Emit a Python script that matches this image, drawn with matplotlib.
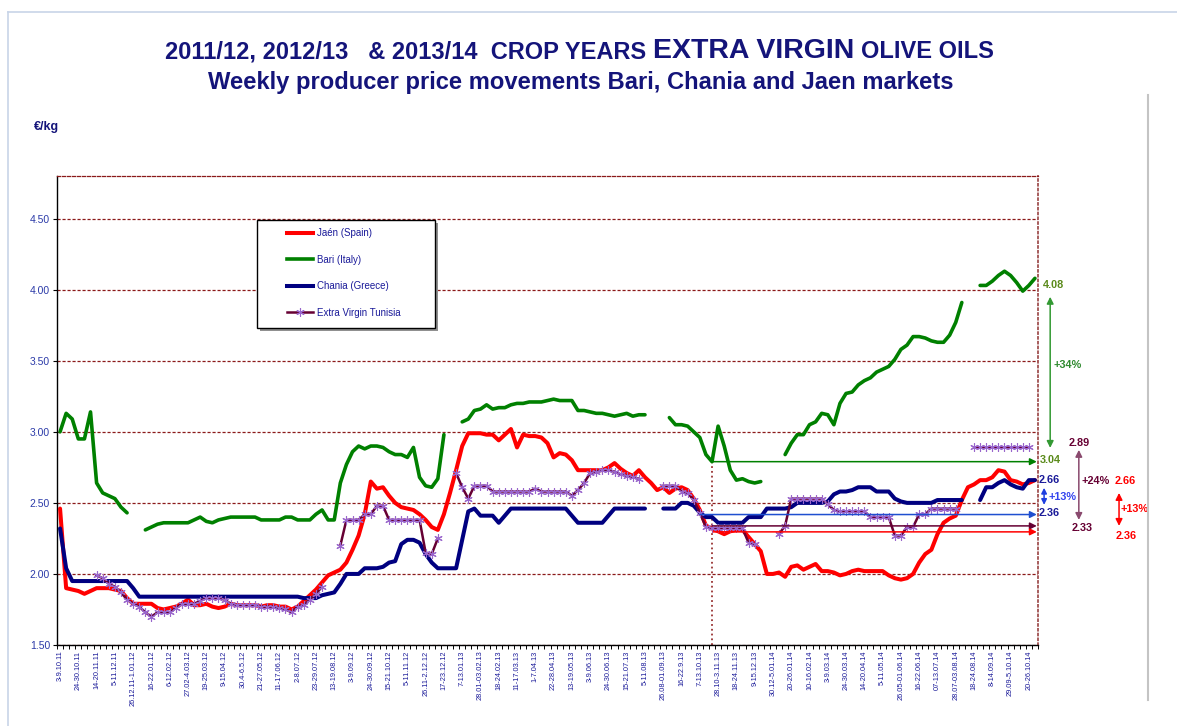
import numpy as np
import matplotlib
matplotlib.use('Agg')
import matplotlib.pyplot as plt
from matplotlib.lines import Line2D
from matplotlib.patches import Rectangle

plt.rcParams['font.family'] = ['Liberation Sans', 'DejaVu Sans']

nan = np.nan

# x-axis labels, one every 3 weeks
week_labels = ["3-9.10.11", "24-30.10.11", "14-20.11.11", "5-11.12.11", "26.12.11-1.01.12",
               "16-22.01.12", "6-12.02.12", "27.02-4.03.12", "19-25.03.12", "9-15.04.12",
               "30.4-6.5.12", "21-27.05.12", "11-17.06.12", "2-8.07.12", "23-29.07.12",
               "13-19.08.12", "3-9.09.12", "24-30.09.12", "15-21.10.12", "5-11.11.12",
               "26.11-2.12.12", "17-23.12.12", "7-13.01.13", "28.01-03.02.13", "18-24.02.13",
               "11-17.03.13", "1-7.04.13", "22-28.04.13", "13-19.05.13", "3-9.06.13",
               "24-30.06.13", "15-21.07.13", "5-11.08.13", "26.08-01.09.13", "16-22.9.13",
               "7-13.10.13", "28.10-3.11.13", "18-24.11.13", "9-15.12.13", "30.12-5.01.14",
               "20-26.01.14", "10-16.02.14", "3-9.03.14", "24-30.03.14", "14-20.04.14",
               "5-11.05.14", "26.05-01.06.14", "16-22.06.14", "07-13.07.14", "28.07-03.08.14",
               "18-24.08.14", "8-14.09.14", "29.09-5.10.14", "20-26.10.14"]

# weekly prices EUR/kg
jaen = [2.46, 1.90, 1.89, 1.88, 1.86, 1.88, 1.90, 1.90, 1.90, 1.89,
        1.88, 1.83, 1.79, 1.79, 1.79, 1.79, 1.76, 1.75, 1.76, 1.77,
        1.79, 1.82, 1.78, 1.78, 1.79, 1.77, 1.76, 1.77, 1.79, 1.78,
        1.78, 1.78, 1.78, 1.77, 1.78, 1.78, 1.77, 1.77, 1.75, 1.77,
        1.81, 1.85, 1.89, 1.94, 1.99, 2.01, 2.03, 2.08, 2.17, 2.27,
        2.42, 2.65, 2.60, 2.61, 2.55, 2.50, 2.47, 2.46, 2.45, 2.42,
        2.38, 2.33, 2.31, 2.42, 2.57, 2.73, 2.90, 2.99, 2.99, 2.99,
        2.98, 2.98, 2.94, 2.98, 3.02, 2.89, 2.98, 2.97, 2.97, 2.96,
        2.92, 2.82, 2.85, 2.84, 2.80, 2.73, 2.73, 2.73, 2.73, 2.73,
        2.75, 2.78, 2.74, 2.71, 2.69, 2.73, 2.68, 2.64, 2.59, 2.61,
        2.57, 2.60, 2.61, 2.59, 2.53, 2.45, 2.34, 2.32, 2.30, 2.28,
        2.30, 2.31, 2.31, 2.26, 2.21, 2.16, 2.00, 2.00, 2.01, 1.98,
        2.05, 2.06, 2.03, 2.05, 2.07, 2.02, 2.02, 2.01, 1.99, 2.00,
        2.02, 2.03, 2.02, 2.02, 2.02, 2.02, 1.99, 1.97, 1.96, 1.97,
        2.00, 2.08, 2.14, 2.17, 2.28, 2.36, 2.39, 2.41, 2.52, 2.61,
        2.63, 2.66, 2.66, 2.68, 2.73, 2.72, 2.66, 2.65, 2.63, 2.64,
        2.66]

bari = [3.00, 3.13, 3.09, 2.95, 2.95, 3.14, 2.64, 2.57, 2.55, 2.53,
        2.47, 2.43, nan, nan, 2.31, 2.33, 2.35, 2.36, 2.36, 2.36,
        2.36, 2.36, 2.38, 2.40, 2.37, 2.36, 2.38, 2.39, 2.40, 2.40,
        2.40, 2.40, 2.40, 2.38, 2.38, 2.38, 2.38, 2.40, 2.40, 2.38,
        2.38, 2.38, 2.42, 2.45, 2.38, 2.38, 2.64, 2.77, 2.86, 2.90,
        2.88, 2.90, 2.90, 2.89, 2.86, 2.84, 2.84, 2.82, 2.89, 2.68,
        2.62, 2.61, 2.67, 2.98, nan, nan, 3.07, 3.09, 3.15, 3.16,
        3.19, 3.16, 3.17, 3.17, 3.19, 3.20, 3.20, 3.21, 3.21, 3.21,
        3.22, 3.23, 3.22, 3.22, 3.22, 3.15, 3.15, 3.14, 3.13, 3.13,
        3.12, 3.11, 3.12, 3.13, 3.11, 3.12, 3.12, nan, nan, nan,
        3.10, 3.05, 3.05, 3.04, 3.00, 2.96, 2.84, 2.79, 3.04, 2.90,
        2.73, 2.66, 2.67, 2.65, 2.64, 2.65, nan, nan, nan, 2.84,
        2.92, 2.98, 2.98, 3.05, 3.07, 3.13, 3.12, 3.05, 3.20, 3.27,
        3.28, 3.33, 3.36, 3.38, 3.42, 3.44, 3.46, 3.51, 3.58, 3.61,
        3.67, 3.67, 3.66, 3.64, 3.63, 3.63, 3.68, 3.77, 3.91, nan,
        nan, 4.03, 4.03, 4.06, 4.10, 4.13, 4.10, 4.05, 3.99, 4.03,
        4.08]

chania = [2.32, 2.04, 1.95, 1.95, 1.95, 1.95, 1.95, 1.95, 1.95, 1.95,
          1.95, 1.95, 1.90, 1.84, 1.84, 1.84, 1.84, 1.84, 1.84, 1.84,
          1.84, 1.84, 1.84, 1.84, 1.84, 1.84, 1.84, 1.84, 1.84, 1.84,
          1.84, 1.84, 1.84, 1.84, 1.84, 1.84, 1.84, 1.84, 1.84, 1.84,
          1.83, 1.83, 1.83, 1.85, 1.86, 1.87, 1.93, 2.00, 2.00, 2.00,
          2.04, 2.04, 2.04, 2.05, 2.08, 2.09, 2.21, 2.24, 2.24, 2.22,
          2.14, 2.08, 2.04, 2.04, 2.04, 2.04, 2.24, 2.44, 2.46, 2.41,
          2.41, 2.41, 2.36, 2.41, 2.46, 2.46, 2.46, 2.46, 2.46, 2.46,
          2.46, 2.46, 2.46, 2.46, 2.41, 2.36, 2.36, 2.36, 2.36, 2.36,
          2.41, 2.46, 2.46, 2.46, 2.46, 2.46, 2.46, nan, nan, 2.46,
          2.46, 2.46, 2.50, 2.50, 2.48, 2.43, 2.40, 2.40, 2.36, 2.36,
          2.36, 2.36, 2.36, 2.40, 2.40, 2.40, 2.46, 2.46, 2.46, 2.46,
          2.47, 2.50, 2.50, 2.50, 2.50, 2.50, 2.51, 2.56, 2.58, 2.58,
          2.59, 2.61, 2.61, 2.61, 2.58, 2.58, 2.58, 2.53, 2.51, 2.50,
          2.50, 2.50, 2.50, 2.50, 2.52, 2.52, 2.52, 2.52, 2.52, nan,
          nan, 2.52, 2.61, 2.61, 2.64, 2.66, 2.63, 2.61, 2.60, 2.66,
          2.66]

tunisia = [nan, nan, nan, nan, nan, nan, 1.99, 1.97, 1.93, 1.91,
           1.87, 1.82, 1.79, 1.77, 1.73, 1.70, 1.73, 1.73, 1.73, 1.76,
           1.79, 1.79, 1.79, 1.81, 1.83, 1.83, 1.83, 1.82, 1.79, 1.78,
           1.78, 1.78, 1.78, 1.77, 1.77, 1.77, 1.76, 1.75, 1.73, 1.77,
           1.78, 1.82, 1.86, 1.91, nan, nan, 2.20, 2.38, 2.38, 2.38,
           2.42, 2.42, 2.48, 2.48, 2.38, 2.38, 2.38, 2.38, 2.38, 2.38,
           2.15, 2.14, 2.25, nan, nan, 2.71, 2.61, 2.53, 2.62, 2.62,
           2.62, 2.58, 2.58, 2.58, 2.58, 2.58, 2.58, 2.58, 2.60, 2.58,
           2.58, 2.58, 2.58, 2.58, 2.55, 2.59, 2.64, 2.71, 2.72, 2.73,
           2.73, 2.72, 2.70, 2.69, 2.68, 2.67, nan, nan, nan, 2.62,
           2.62, 2.62, 2.58, 2.57, 2.52, 2.43, 2.33, 2.32, 2.32, 2.32,
           2.32, 2.32, 2.32, 2.22, 2.21, nan, nan, nan, 2.28, 2.34,
           2.53, 2.53, 2.53, 2.53, 2.53, 2.53, 2.49, 2.45, 2.44, 2.44,
           2.44, 2.44, 2.44, 2.40, 2.40, 2.40, 2.40, 2.27, 2.27, 2.33,
           2.33, 2.42, 2.42, 2.46, 2.46, 2.46, 2.46, 2.46, nan, nan,
           2.89, 2.89, 2.89, 2.89, 2.89, 2.89, 2.89, 2.89, 2.89, 2.89,
           nan]

weeks = np.arange(len(jaen))

W, H = 1177, 726
fig = plt.figure(figsize=(W / 100, H / 100), dpi=100)
ax = fig.add_axes([57 / W, 81 / H, 981 / W, 469 / H])

navy_txt = '#14147a'
grid_c = '#8b1a1a'

ax.plot(weeks, jaen, color='#ff0000', lw=2.9, solid_capstyle='round', zorder=3)
ax.plot(weeks, bari, color='#008000', lw=2.6, solid_capstyle='round', zorder=3)
ax.plot(weeks, chania, color='#000080', lw=2.9, solid_capstyle='round', zorder=3.1)
ax.plot(weeks, tunisia, color='#660033', lw=1.8, marker=(6, 2, 0), ms=6,
        mec='#9966cc', mew=0.8, zorder=3.2)

ax.set_xlim(-0.5, 160.5)
ax.set_ylim(1.5, 4.8)
ax.set_yticks([1.5, 2.0, 2.5, 3.0, 3.5, 4.0, 4.5])
ax.set_yticklabels(['1.50', '2.00', '2.50', '3.00', '3.50', '4.00', '4.50'])
ax.tick_params(axis='y', direction='out', length=3, width=0.8, pad=2,
               labelsize=7.5, labelcolor='#2b3aa8')
ax.yaxis.grid(True, color=grid_c, linestyle=(0, (2.5, 1.5)), linewidth=0.9)
ax.set_axisbelow(True)

ax.set_xticks(np.arange(0, len(jaen), 3))
ax.set_xticklabels(week_labels, rotation=90, fontsize=5.3, color='#1a1a99')
ax.set_xticks(np.arange(-0.5, len(jaen), 1), minor=True)
ax.tick_params(axis='x', which='major', length=0, pad=4)
ax.tick_params(axis='x', which='minor', length=3, width=0.7, direction='out')

for s in ['left', 'bottom']:
    ax.spines[s].set_color('black')
    ax.spines[s].set_linewidth(1.0)
ax.spines['top'].set_color(grid_c)
ax.spines['top'].set_linestyle((0, (2.5, 1.5)))
ax.spines['top'].set_linewidth(0.9)
ax.spines['right'].set_color('#a05050')
ax.spines['right'].set_linestyle(':')
ax.spines['right'].set_linewidth(1.3)

# vertical marker at the start of the 2013/14 comparison
ax.vlines(107, 1.5, 2.79, colors='#993333', linestyles=':', lw=1.3, zorder=2)

# horizontal reference arrows
def harrow(x0, y, color):
    ax.annotate('', xy=(160.3, y), xytext=(x0, y),
                arrowprops=dict(arrowstyle='-|>', color=color, lw=1.1,
                                mutation_scale=10, shrinkA=0, shrinkB=0),
                annotation_clip=False, zorder=4)

harrow(107, 2.79, '#008000')
harrow(105, 2.418, '#1f4fd0')
harrow(107, 2.338, '#660033')
harrow(107.2, 2.296, '#ff0000')

def varrow(x, y0, y1, color, ms=10):
    ax.annotate('', xy=(x, y1), xytext=(x, y0),
                arrowprops=dict(arrowstyle='<|-|>', color=color, lw=1.1,
                                mutation_scale=ms, shrinkA=0, shrinkB=0),
                annotation_clip=False)

varrow(162.5, 2.887, 3.95, '#339933')
varrow(167.2, 2.38, 2.873, '#8a4a6e')
varrow(161.5, 2.486, 2.606, '#1f3fe0', ms=8)
varrow(173.8, 2.338, 2.57, '#ff0000')

def rtext(x, y, s, color):
    ax.text(x, y, s, color=color, fontsize=7.8, fontweight='bold',
            ha='center', va='center', clip_on=False)

rtext(163.0, 4.035, '4.08', '#5a8a1a')
rtext(165.3, 3.47, '+34%', '#2f8a2f')
rtext(162.5, 2.80, '3.04', '#5a8a1a')
rtext(167.2, 2.92, '2.89', '#660033')
rtext(170.0, 2.655, '+24%', '#660033')
rtext(167.7, 2.32, '2.33', '#660033')
rtext(162.3, 2.66, '2.66', '#1a1a99')
rtext(164.6, 2.54, '+13%', '#3344ee')
rtext(162.3, 2.43, '2.36', '#1a1a99')
rtext(174.8, 2.655, '2.66', '#ff0000')
rtext(176.4, 2.46, '+13%', '#ff0000')
rtext(175.0, 2.27, '2.36', '#ff0000')

# legend with framed box and shadow
handles = [Line2D([], [], color='#ff0000', lw=2.9),
           Line2D([], [], color='#008000', lw=2.6),
           Line2D([], [], color='#000080', lw=2.9),
           Line2D([], [], color='#660033', lw=1.8, marker=(6, 2, 0), ms=6,
                  mec='#9966cc', mew=0.8)]
names = ['Jaén (Spain)', 'Bari (Italy)', 'Chania (Greece)', 'Extra Virgin Tunisia']
bx, by, bw, bh = 200 / 981, 317 / 469, 178 / 981, 108 / 469
ax.add_patch(Rectangle((bx + 3 / 981, by - 3 / 469), bw, bh, transform=ax.transAxes,
                       facecolor='#909090', edgecolor='none', zorder=5))
ax.add_patch(Rectangle((bx, by), bw, bh, transform=ax.transAxes,
                       facecolor='white', edgecolor='black', lw=1.0, zorder=5.1))
leg = ax.legend(handles, names, loc='upper left', bbox_to_anchor=(230 / 981, 416.5 / 469),
                frameon=False, fontsize=7, borderpad=0, borderaxespad=0,
                handlelength=2.7, handletextpad=0.42, labelspacing=1.68)
for t in leg.get_texts():
    t.set_color('#1a1a99')
leg.set_zorder(6)

# titles
r = fig.canvas.get_renderer()
parts = [("2011/12, 2012/13   & 2013/14  CROP YEARS", 17),
         ("EXTRA VIRGIN", 20.5),
         ("OLIVE OILS", 17)]
x = 165
for s, fs in parts:
    t = fig.text(x / W, 1 - 58 / H, s, fontsize=fs, fontweight='bold',
                 color=navy_txt, ha='left', va='baseline')
    x += t.get_window_extent(r).width + 7
fig.text(581 / W, 1 - 89 / H, "Weekly producer price movements Bari, Chania and Jaen markets",
         fontsize=17.1, fontweight='bold', color=navy_txt, ha='center', va='baseline')

fig.text(47 / W, 1 - 127 / H, "€/kg", fontsize=9, fontweight='bold', color=navy_txt,
         ha='center', va='center')

# page frame lines
fig.add_artist(Line2D([8 / W, 8 / W], [0, 1 - 12 / H], color='#c8d4e8', lw=1.2))
fig.add_artist(Line2D([8 / W, 1], [1 - 12 / H, 1 - 12 / H], color='#c8d4e8', lw=1.2))
fig.add_artist(Line2D([1148 / W, 1148 / W], [1 - 95 / H, 1 - 700 / H], color='#c4c4c4', lw=1.5))

fig.savefig('out.png', dpi=100)
